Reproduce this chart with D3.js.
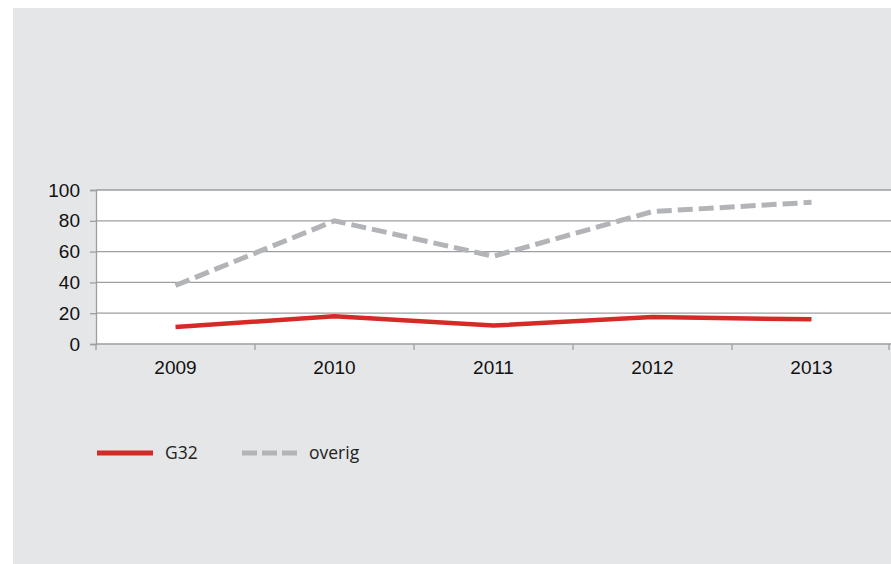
<!DOCTYPE html>
<html><head><meta charset="utf-8">
<script src="https://cdn.jsdelivr.net/npm/d3@7"></script>
<style>body{margin:0;background:#fff;}svg{display:block;}</style>
</head><body>
<script>
const years = ["2009","2010","2011","2012","2013"];
const g32 = [11, 18, 12, 17.5, 16];
const overig = [38, 80, 57, 86, 92];
const yTicks = [0, 20, 40, 60, 80, 100];
const seriesNames = ["G32", "overig"];

(function(){
const W = 891, H = 564;
const svg = d3.select("body").append("svg").attr("width", W).attr("height", H);
svg.append("rect").attr("x",13).attr("y",8).attr("width",W-13).attr("height",556).attr("fill","#e5e6e8");

const pL = 96, pR = 891, pT = 190, pB = 344;
const x = d3.scaleBand().domain(years).range([pL, pR]);
const y = d3.scaleLinear().domain([0,100]).range([pB, pT]);

svg.append("rect").attr("x",pL).attr("y",pT).attr("width",pR-pL).attr("height",pB-pT).attr("fill","#fff");

// gridlines
svg.append("g").selectAll("line").data(yTicks).join("line")
  .attr("x1",pL).attr("x2",pR).attr("y1",d=>y(d)).attr("y2",d=>y(d))
  .attr("stroke","#9d9ea1").attr("stroke-width",1.3);

// y axis
const ya = svg.append("g").attr("transform",`translate(${pL},0)`)
  .call(d3.axisLeft(y).tickValues(yTicks).tickSize(6).tickPadding(10));
ya.select(".domain").attr("stroke","#9d9ea1").attr("stroke-width",1.3);
ya.selectAll(".tick line").attr("stroke","#9d9ea1").attr("stroke-width",1.3);
ya.selectAll("text").attr("font-family","'Liberation Sans', Arial, sans-serif").attr("font-size",19).attr("fill","#111");

// x axis ticks at band boundaries
const bounds = years.map(d=>x(d)).concat([pR-2]);
svg.append("g").selectAll("line").data(bounds).join("line")
  .attr("x1",d=>d).attr("x2",d=>d).attr("y1",pB).attr("y2",pB+6)
  .attr("stroke","#9d9ea1").attr("stroke-width",1.3);
svg.append("g").selectAll("text").data(years).join("text")
  .attr("x",d=>x(d)+x.bandwidth()/2).attr("y",374).attr("text-anchor","middle")
  .attr("font-family","'Liberation Sans', Arial, sans-serif").attr("font-size",19).attr("fill","#111")
  .text(d=>d);

const line = d3.line().x((d,i)=>x(years[i])+x.bandwidth()/2).y(d=>y(d));
svg.append("path").datum(overig).attr("d",line).attr("fill","none")
  .attr("stroke","#b2b4b7").attr("stroke-width",5).attr("stroke-dasharray","15,6");
svg.append("path").datum(g32).attr("d",line).attr("fill","none")
  .attr("stroke","#d52b27").attr("stroke-width",4.5);

// legend
const lg = svg.append("g");
lg.append("line").attr("x1",97).attr("x2",153).attr("y1",453).attr("y2",453)
  .attr("stroke","#d52b27").attr("stroke-width",5);
lg.append("text").attr("x",165).attr("y",459).text(seriesNames[0])
  .attr("font-family","'Open Sans', sans-serif").attr("font-size",17.5).attr("fill","#222");
lg.append("line").attr("x1",242).attr("x2",297).attr("y1",453).attr("y2",453)
  .attr("stroke","#b2b4b7").attr("stroke-width",5).attr("stroke-dasharray","15,5");
lg.append("text").attr("x",309).attr("y",459).text(seriesNames[1])
  .attr("font-family","'Open Sans', sans-serif").attr("font-size",17.5).attr("fill","#222");
})();
</script>
</body></html>
